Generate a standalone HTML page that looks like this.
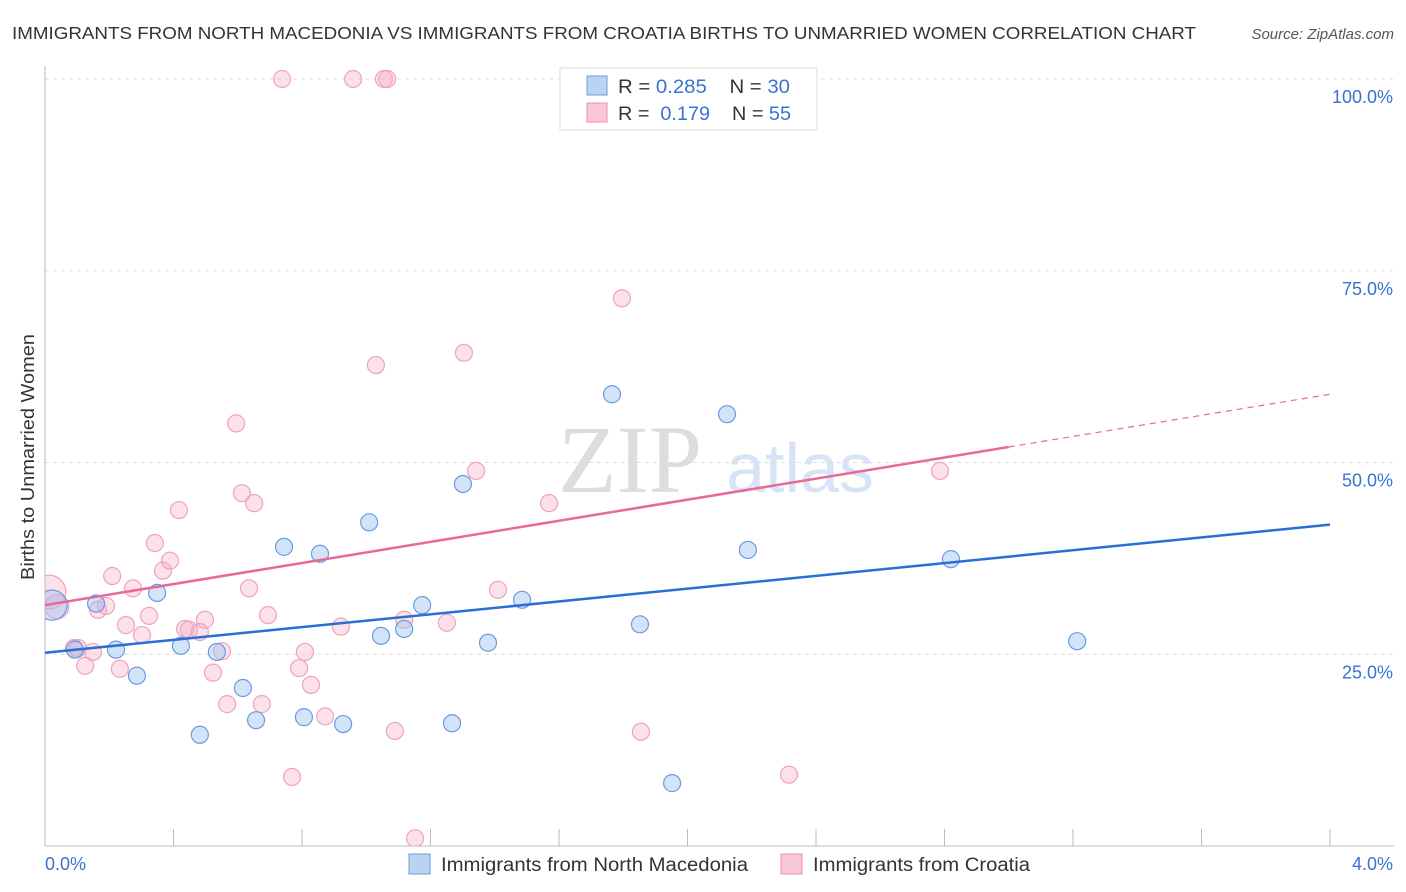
<!DOCTYPE html>
<html><head><meta charset="utf-8"><style>
body{margin:0;background:#fff;font-family:"Liberation Sans",sans-serif;}
svg{display:block}
</style></head><body>
<svg width="1406" height="892" id="chart">
<text x="12" y="39" font-size="17.5" fill="#333" textLength="1184" lengthAdjust="spacingAndGlyphs">IMMIGRANTS FROM NORTH MACEDONIA VS IMMIGRANTS FROM CROATIA BIRTHS TO UNMARRIED WOMEN CORRELATION CHART</text>
<text x="1394" y="39" font-size="15" fill="#555" font-style="italic" text-anchor="end">Source: ZipAtlas.com</text>
<text x="34" y="457" font-size="18" fill="#333" transform="rotate(-90 34 457)" text-anchor="middle" textLength="246" lengthAdjust="spacingAndGlyphs">Births to Unmarried Women</text>
<text x="630" y="492" font-size="96" fill="#ddd" font-family="Liberation Serif,serif" text-anchor="middle">ZIP</text>
<text x="800" y="492" font-size="70" fill="#d6e4f5" text-anchor="middle">atlas</text>
<defs><clipPath id="pc"><rect x="45" y="60" width="1350" height="786"/></clipPath></defs>
<g id="grid"></g><g id="axes"></g>
<g id="marks" clip-path="url(#pc)"></g>
<g id="legend">
<rect x="560" y="68" width="257" height="62" fill="#fff" stroke="#ddd"/>
<rect x="587" y="76" width="20" height="19" fill="#b9d3f3" stroke="#6a9be0"/>
<rect x="587" y="103" width="20" height="19" fill="#f9c7d6" stroke="#ec8fae"/>
<text x="618" y="93" font-size="19" fill="#333" textLength="172" lengthAdjust="spacingAndGlyphs">R = <tspan fill="#3a72d0">0.285</tspan>&#160;&#160;&#160; N = <tspan fill="#3a72d0">30</tspan></text>
<text x="618" y="120" font-size="19" fill="#333" textLength="173" lengthAdjust="spacingAndGlyphs">R = &#160;<tspan fill="#3a72d0">0.179</tspan>&#160;&#160;&#160; N = <tspan fill="#3a72d0">55</tspan></text>
</g>
<g>
<rect x="409" y="854" width="21" height="20" fill="#b9d3f3" stroke="#6a9be0"/>
<text x="441" y="871" font-size="19" fill="#333" textLength="307" lengthAdjust="spacingAndGlyphs">Immigrants from North Macedonia</text>
<rect x="781" y="854" width="21" height="20" fill="#f9c7d6" stroke="#ec8fae"/>
<text x="813" y="871" font-size="19" fill="#333" textLength="217" lengthAdjust="spacingAndGlyphs">Immigrants from Croatia</text>
</g>
</svg>
<script>
const blueX=[0.022,0.093,0.159,0.221,0.286,0.349,0.423,0.482,0.535,0.616,0.657,0.744,0.806,0.856,0.928,1.009,1.046,1.118,1.174,1.267,1.301,1.379,1.485,1.765,1.852,1.952,2.123,2.188,2.820,3.213];
const blueY=[31.4,25.6,31.6,25.6,22.2,33.0,26.1,14.5,25.3,20.6,16.4,39.0,16.8,38.1,15.9,42.2,27.4,28.3,31.4,16.0,47.2,26.5,32.1,58.9,28.9,8.2,56.3,38.6,37.4,26.7];
const pinkX=[0.012,0.037,0.090,0.103,0.125,0.149,0.165,0.190,0.209,0.233,0.252,0.274,0.302,0.324,0.342,0.367,0.389,0.417,0.436,0.448,0.482,0.498,0.523,0.551,0.567,0.595,0.613,0.651,0.635,0.675,0.694,0.738,0.769,0.791,0.809,0.828,0.872,0.921,0.959,1.030,1.055,1.065,1.089,1.118,1.152,1.251,1.304,1.342,1.410,1.569,1.796,1.855,2.316,2.786];
const pinkY=[33.1,31.2,25.8,25.8,23.5,25.3,30.8,31.3,35.2,23.1,28.8,33.6,27.5,30.0,39.5,35.9,37.2,43.8,28.3,28.2,27.9,29.5,22.6,25.4,18.5,55.1,46.0,44.7,33.6,18.5,30.1,100,9.0,23.2,25.3,21.0,16.9,28.6,100,62.7,100,100,15.0,29.5,1.0,29.1,64.3,48.9,33.4,44.7,71.4,14.9,9.3,48.9];
const pinkR=[17,12];const blueR=[15];
const yTicks=[25,50,75,100];
const xTickLabels=["0.0%","4.0%"];
const blueTrend=[25.2,41.9];
const pinkTrend=[31.4,58.9];
const pinkSolidEnd=3.0;
const NS="http://www.w3.org/2000/svg";
const sx=v=>45+v/4*1285, sy=v=>846-v/100*767;
function mk(t,a,p){const e=document.createElementNS(NS,t);for(const k in a)e.setAttribute(k,a[k]);p.appendChild(e);return e;}
const grid=document.getElementById('grid'),axes=document.getElementById('axes'),marks=document.getElementById('marks');
yTicks.forEach(t=>{
 const l=mk('line',{x1:45,x2:1394,y1:sy(t),y2:sy(t),stroke:'#ddd','stroke-dasharray':'4,4'},grid);
 
 
 const tx=mk('text',{x:1393,y:sy(t)+24,'font-size':18,fill:'#3a72d0','text-anchor':'end'},axes);
 tx.textContent=t.toFixed(1)+'%';
 
 
});
mk('line',{x1:45,x2:45,y1:66,y2:846,stroke:'#bbb'},axes);
mk('line',{x1:45,x2:1394,y1:846,y2:846,stroke:'#bbb'},axes);
for(let i=0;i<=10;i++){const x=sx(i*0.4);mk('line',{x1:x,x2:x,y1:829,y2:846,stroke:'#bbb'},axes);}
const xl=mk('text',{x:45,y:870,'font-size':18,fill:'#3a72d0'},axes);xl.textContent=xTickLabels[0];


const xr=mk('text',{x:1393,y:870,'font-size':18,fill:'#3a72d0','text-anchor':'end'},axes);xr.textContent=xTickLabels[1];


pinkX.forEach((x,i)=>{const c=mk('circle',{cx:sx(x),cy:sy(pinkY[i]),r:pinkR[i]||8.5,fill:'rgba(246,170,195,0.35)',stroke:'#eea3bd','stroke-width':1.2},marks);
 
 });
blueX.forEach((x,i)=>{const c=mk('circle',{cx:sx(x),cy:sy(blueY[i]),r:blueR[i]||8.5,fill:'rgba(160,196,240,0.45)',stroke:'#6a9be0','stroke-width':1.2},marks);
 
 });
const bl=mk('line',{x1:sx(0),y1:sy(blueTrend[0]),x2:sx(4),y2:sy(blueTrend[1]),stroke:'#2a6fd6','stroke-width':2.5},marks);


const pm=pinkTrend[0]+(pinkTrend[1]-pinkTrend[0])*pinkSolidEnd/4;
const pl=mk('line',{x1:sx(0),y1:sy(pinkTrend[0]),x2:sx(pinkSolidEnd),y2:sy(pm),stroke:'#e8689a','stroke-width':2.5},marks);


const pd=mk('line',{x1:sx(pinkSolidEnd),y1:sy(pm),x2:sx(4),y2:sy(pinkTrend[1]),stroke:'#e8689a','stroke-width':1.2,'stroke-dasharray':'6,5'},marks);


</script>
</body></html>
